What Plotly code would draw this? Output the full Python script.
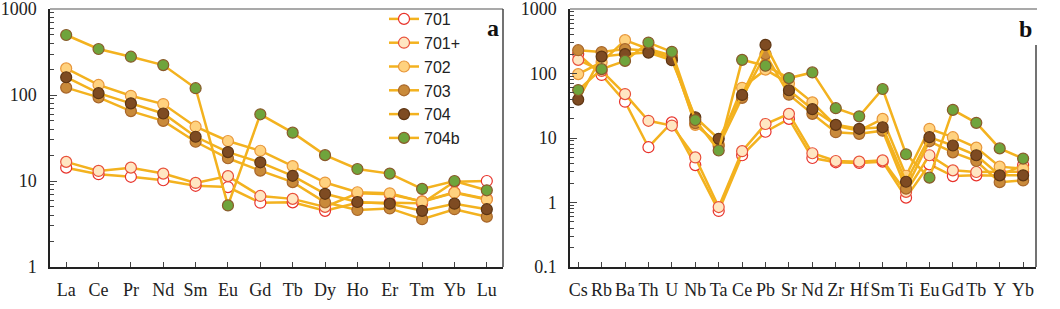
import plotly.graph_objects as go

# ---------------- data ----------------
ree = ["La", "Ce", "Pr", "Nd", "Sm", "Eu", "Gd", "Tb", "Dy", "Ho", "Er", "Tm", "Yb", "Lu"]
spider = ["Cs", "Rb", "Ba", "Th", "U", "Nb", "Ta", "Ce", "Pb", "Sr", "Nd", "Zr", "Hf", "Sm",
          "Ti", "Eu", "Gd", "Tb", "Y", "Yb"]

samples = ["701", "701+", "702", "703", "704", "704b"]

ree_701 = [14.3, 12.0, 11.2, 10.2, 8.8, 8.5, 5.6, 5.65, 4.5, 5.6, 5.6, 5.5, 9.8, 10.0]
ree_701p = [16.7, 13.1, 14.3, 12.2, 9.5, 11.4, 6.7, 6.2, 5.0, 7.2, 7.0, 5.8, 7.4, 6.2]
ree_702 = [204, 131, 98, 78.5, 42.8, 29.2, 22.5, 14.9, 9.6, 7.4, 7.2, 5.75, 7.3, 6.1]
ree_703 = [122, 94, 65, 50, 28.6, 18.4, 13.2, 9.7, 5.65, 4.6, 4.8, 3.6, 4.7, 3.85]
ree_704 = [161, 105, 80, 61, 32.7, 21.7, 16.5, 11.5, 7.1, 5.7, 5.45, 4.5, 5.45, 4.7]
ree_704b = [499, 343, 279, 223, 120, 5.2, 59.7, 36.5, 20, 13.8, 12.2, 8.1, 10.0, 7.8]

sp_701 = [200, 95, 36.6, 7.2, 17.5, 3.8, 0.74, 5.4, 12.5, 19.8, 4.9, 4.2, 4.1, 4.3,
          1.19, 3.9, 2.57, 2.64, 2.6, 3.8]
sp_701p = [163, 110, 48, 18.5, 15.6, 5.0, 0.85, 6.25, 16.5, 23.7, 5.8, 4.4, 4.3, 4.5,
           1.46, 5.4, 3.15, 2.97, 3.0, 3.0]
sp_702 = [98, 150, 329, 240, 190, 16, 8.0, 60, 115, 70, 35.7, 15.5, 13, 19.8,
          2.6, 13.9, 10.3, 7.1, 3.6, 3.35]
sp_703 = [230, 215, 239, 225, 175, 17, 7.5, 42, 200, 47, 23.7, 12.3, 11.6, 13,
          1.64, 8.9, 6.0, 4.4, 2.07, 2.2]
sp_704 = [39.4, 183, 200, 211, 161, 21, 9.7, 46.5, 278, 55, 28, 16, 13.9, 14.7,
          2.1, 10.3, 7.65, 5.4, 2.64, 2.64]
sp_704b = [55.4, 117, 157, 302, 217, 19, 6.4, 163, 132, 85, 104, 29, 21.7, 57.5,
           5.6, 2.43, 27.3, 17.2, 6.9, 4.8]

ree_data = [ree_701, ree_701p, ree_702, ree_703, ree_704, ree_704b]
sp_data = [sp_701, sp_701p, sp_702, sp_703, sp_704, sp_704b]

# ---------------- styles ----------------
line_color = "#F3B21F"
fills = ["#FFFFFF", "#FFE6C2", "#FFD27F", "#C98A3A", "#7E4B22", "#6FA43C"]
edges = ["#E8322A", "#E8503A", "#E8963A", "#A8662A", "#5E3512", "#8A5A2A"]

W, H = 1060, 309
def px_x(p): return p / W
def px_y(p): return 1 - p / H

fig = go.Figure()

for i, name in enumerate(samples):
    mk = dict(size=11, color=fills[i], line=dict(color=edges[i], width=1.2))
    fig.add_trace(go.Scatter(x=ree, y=ree_data[i], mode="lines+markers", name=name,
                             line=dict(color=line_color, width=2.5), marker=mk,
                             xaxis="x", yaxis="y", legendgroup=name, showlegend=True))
    fig.add_trace(go.Scatter(x=spider, y=sp_data[i], mode="lines+markers", name=name,
                             line=dict(color=line_color, width=2.5), marker=mk,
                             xaxis="x2", yaxis="y2", legendgroup=name, showlegend=False))

tick_font = dict(family="Liberation Serif, Times New Roman, serif", size=18, color="#222")

def minor_vals(decades):
    vals = []
    for d in decades:
        for m in range(2, 10):
            vals.append(m * d)
    return vals

xa = [px_x(50), px_x(503)]
xb = [px_x(570), px_x(1036)]
ydom = [px_y(267), px_y(9)]
ydom_b = [px_y(267), px_y(9)]

common_x = dict(type="category", showline=True, linecolor="#222", linewidth=1.5,
                ticks="inside", ticklen=5, tickcolor="#444", tickfont=tick_font,
                showgrid=False, zeroline=False, ticklabelstandoff=6, tickangle=0,
                automargin=False)
common_y = dict(type="log", showline=True, linecolor="#222", linewidth=1.5,
                ticks="inside", ticklen=7, tickcolor="#444", tickfont=tick_font,
                showgrid=False, zeroline=False, ticklabelstandoff=8,
                ticklabeloverflow="allow", automargin=False)

fig.update_layout(
    width=W, height=H,
    margin=dict(l=0, r=0, t=0, b=0, autoexpand=False),
    paper_bgcolor="white", plot_bgcolor="white",
    showlegend=True,
    legend=dict(x=px_x(384), y=px_y(2), xanchor="left", yanchor="top",
                bgcolor="rgba(0,0,0,0)",
                font=dict(family="Liberation Sans, Arial, sans-serif", size=16, color="#222"),
                itemwidth=30, tracegroupgap=0),
    xaxis=dict(domain=xa, range=[-0.5, 13.5], anchor="y", **common_x),
    yaxis=dict(domain=ydom, range=[0, 3.0005], anchor="x",
               tickvals=[1, 10, 100, 1000], ticktext=["1", "10", "100", "1000"],
               minor=dict(ticks="inside", ticklen=4, tickcolor="#444",
                          tickvals=minor_vals([1, 10, 100])),
               **common_y),
    xaxis2=dict(domain=xb, range=[-0.35, 19.55], anchor="y2", **common_x),
    yaxis2=dict(domain=ydom_b, range=[-1, 3.0005], anchor="x2",
                tickvals=[0.1, 1, 10, 100, 1000], ticktext=["0.1", "1", "10", "100", "1000"],
                minor=dict(ticks="inside", ticklen=4, tickcolor="#444",
                           tickvals=minor_vals([0.1, 1, 10, 100])),
                **common_y),
)

# frame lines (top in grey, right side)
fig.add_shape(type="line", xref="paper", yref="paper", x0=xa[0], x1=xa[1], y0=ydom[1], y1=ydom[1],
              line=dict(color="#8c8c8c", width=1.5))
fig.add_shape(type="line", xref="paper", yref="paper", x0=xa[1], x1=xa[1], y0=ydom[0], y1=ydom[1],
              line=dict(color="#444", width=1.5))
fig.add_shape(type="line", xref="paper", yref="paper", x0=xb[0], x1=px_x(1037), y0=ydom_b[1], y1=ydom_b[1],
              line=dict(color="#8c8c8c", width=1.5))
fig.add_shape(type="line", xref="paper", yref="paper", x0=xb[1], x1=xb[1], y0=ydom_b[0], y1=px_y(45),
              line=dict(color="#444", width=1.5))

label_font = dict(family="Liberation Serif, Times New Roman, serif", size=24, color="#111")
fig.add_annotation(text="<b>a</b>", xref="paper", yref="paper", x=px_x(493), y=px_y(28),
                   showarrow=False, font=label_font, xanchor="center", yanchor="middle")
fig.add_annotation(text="<b>b</b>", xref="paper", yref="paper", x=px_x(1025), y=px_y(29),
                   showarrow=False, font=label_font, xanchor="center", yanchor="middle")

fig.write_html("out.html", config={"displayModeBar": False},
               post_script="document.body.style.margin='0px';")
